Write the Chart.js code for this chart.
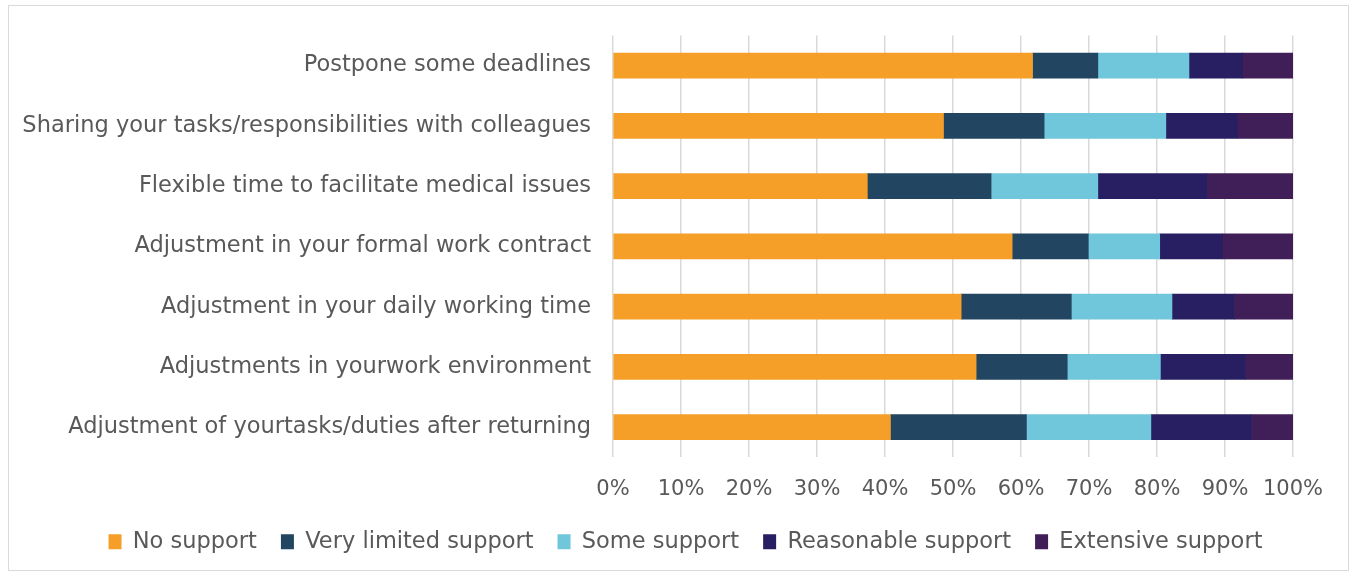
<!DOCTYPE html>
<html lang="en">
<head>
    <meta charset="UTF-8">
    <title>Workplace support</title>
    <script src="https://cdn.jsdelivr.net/npm/chart.js"></script>
    <style>
        body {
            margin: 0;
            background: #ffffff;
        }
        .frame {
            position: absolute;
            left: 8px;
            top: 5px;
            width: 1341px;
            height: 566px;
            border: 1px solid #d9d9d9;
            box-sizing: border-box;
        }
        .wrap {
            position: absolute;
            left: 0;
            top: 0;
            width: 1354px;
            height: 575px;
        }
    </style>
</head>
<body>
    <div class="frame"></div>
    <div class="wrap">
        <canvas id="supportChart"></canvas>
    </div>

    <script>
        // categories, top to bottom
        const categories = [
            'Postpone some deadlines',
            'Sharing your tasks/responsibilities with colleagues',
            'Flexible time to facilitate medical issues',
            'Adjustment in your formal work contract',
            'Adjustment in your daily working time',
            'Adjustments in yourwork environment',
            'Adjustment of yourtasks/duties after returning'
        ];

        // percentages
        const noSupport = [61.7, 48.6, 37.4, 58.7, 51.2, 53.4, 40.8];
        const veryLimitedSupport = [9.6, 14.8, 18.2, 11.2, 16.2, 13.4, 20.0];
        const someSupport = [13.4, 17.9, 15.7, 10.5, 14.8, 13.7, 18.3];
        const reasonableSupport = [7.9, 10.5, 16.0, 9.2, 9.2, 12.5, 14.8];
        const extensiveSupport = [7.4, 8.2, 12.7, 10.4, 8.6, 7.0, 6.1];

        const seriesNames = ['No support', 'Very limited support', 'Some support', 'Reasonable support', 'Extensive support'];
        const seriesColors = ['#f59f29', '#224661', '#70c6da', '#271f62', '#401e58'];
        const tickValues = [0, 10, 20, 30, 40, 50, 60, 70, 80, 90, 100];

        const textColor = '#595959';
        const fontFamily = '"DejaVu Sans", sans-serif';
        const padLeft = 20;

        const allSeries = [noSupport, veryLimitedSupport, someSupport, reasonableSupport, extensiveSupport];

        const datasets = allSeries.map((values, i) => ({
            label: seriesNames[i],
            data: values,
            backgroundColor: seriesColors[i],
            borderWidth: 0,
            barThickness: 25
        }));

        // legend sits a little right of the canvas centre in the original
        const shiftLegend = {
            id: 'shiftLegend',
            afterLayout(chart) {
                chart.legend.left += 29;
                chart.legend.right += 29;
            }
        };

        const ctx = document.getElementById('supportChart').getContext('2d');
        new Chart(ctx, {
            type: 'bar',
            data: {
                labels: categories,
                datasets: datasets
            },
            plugins: [shiftLegend],
            options: {
                indexAxis: 'y',
                responsive: true,
                maintainAspectRatio: false,
                animation: false,
                layout: {
                    padding: { left: padLeft, right: 61, top: 34, bottom: 12 }
                },
                plugins: {
                    tooltip: { enabled: false },
                    legend: {
                        position: 'bottom',
                        labels: {
                            color: textColor,
                            font: { family: fontFamily, size: 22.5 },
                            boxWidth: 13,
                            boxHeight: 15,
                            padding: 24
                        }
                    }
                },
                scales: {
                    x: {
                        stacked: true,
                        min: 0,
                        max: 100,
                        afterBuildTicks: axis => {
                            axis.ticks = tickValues.map(v => ({ value: v }));
                        },
                        // pull the legend a bit closer to the tick labels
                        afterFit: axis => {
                            axis.height -= 16;
                        },
                        ticks: {
                            color: textColor,
                            font: { family: fontFamily, size: 21 },
                            padding: 20,
                            callback: v => v + '%'
                        },
                        grid: {
                            color: '#d9d9d9',
                            lineWidth: 1.5,
                            drawTicks: false
                        },
                        border: { display: false }
                    },
                    y: {
                        stacked: true,
                        afterFit: axis => {
                            axis.width = 613 - padLeft;
                        },
                        ticks: {
                            color: textColor,
                            font: { family: fontFamily, size: 22.5 },
                            padding: 22
                        },
                        grid: { display: false, drawTicks: false },
                        border: { display: false }
                    }
                }
            }
        });
    </script>
</body>
</html>
